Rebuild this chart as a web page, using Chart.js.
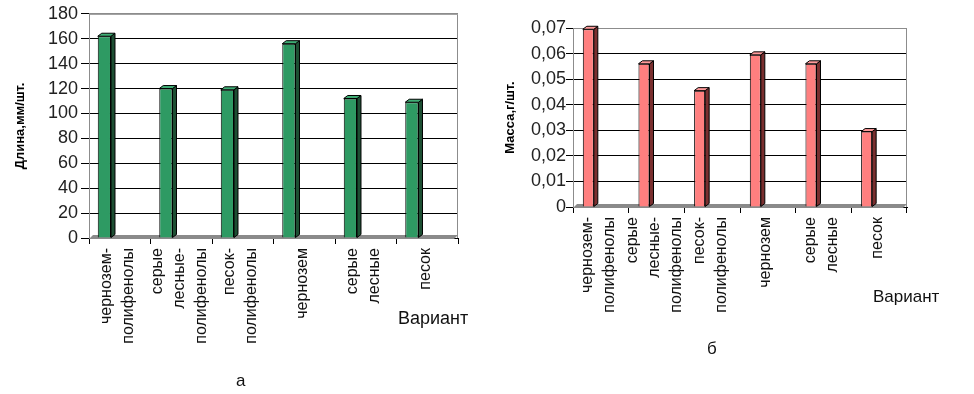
<!DOCTYPE html>
<html lang="ru">
<head>
<meta charset="UTF-8">
<title>Длина и масса по вариантам</title>
<script src="https://cdn.jsdelivr.net/npm/chart.js@4.4.0/dist/chart.umd.min.js"></script>
<style>
  *{margin:0;padding:0;box-sizing:border-box;}
  body{width:974px;height:394px;background:#fff;position:relative;overflow:hidden;
       font-family:"Liberation Sans",Arial,sans-serif;color:#111;}
  .box{position:absolute;top:0;height:394px;}
  #boxA{left:0;width:490px;}
  #boxB{left:490px;width:484px;}
  .lbl{position:absolute;line-height:1;white-space:nowrap;color:#111;}
</style>
</head>
<body>
  <div class="box" id="boxA"><canvas id="chartA"></canvas></div>
  <div class="box" id="boxB"><canvas id="chartB"></canvas></div>
  <span class="lbl" style="left:398px;top:309px;font-size:18px">Вариант</span>
  <span class="lbl" style="left:873px;top:288px;font-size:17px">Вариант</span>
  <span class="lbl" style="left:236px;top:372px;font-size:17px">а</span>
  <span class="lbl" style="left:707px;top:340px;font-size:17px">б</span>

<script>
// --- data ---
const variants = [
  ["чернозем-", "полифенолы"],
  ["серые", "лесные-", "полифенолы"],
  ["песок-", "полифенолы"],
  "чернозем",
  ["серые", "лесные"],
  "песок"
];
const lengthMm = [162, 120, 119, 156, 112, 109];        // а: Длина, мм/шт.
const massG    = [0.0695, 0.056, 0.0455, 0.0595, 0.056, 0.0295]; // б: Масса, г/шт.
const emptySeries = [null, null, null, null, null, null]; // second (empty) series slot
const lengthAxis = {min: 0, max: 180, step: 20};
const massAxis   = {min: 0, max: 0.07, step: 0.01};

// rotated multi-line labels start at the tick; pad with blank half-lines so
// each label ends up centred on its category
function spread(lbl) {
  const lines = Array.isArray(lbl) ? lbl : [lbl];
  const out = [];
  for (let i = 0; i < 3 - lines.length; i++) out.push("");
  lines.forEach((t, i) => { if (i) out.push(""); out.push(t); });
  return out;
}

// excel-like 3d column faces + floor
const depth3d = {
  id: "depth3d",
  beforeDatasetsDraw(chart, args, o) {
    const {ctx, chartArea: a} = chart;
    ctx.save();
    ctx.strokeStyle = "#8c8c8c"; ctx.lineWidth = 1;
    ctx.beginPath();
    ctx.moveTo(a.left + 0.5, a.top + 0.5); ctx.lineTo(a.right - 0.5, a.top + 0.5);
    ctx.lineTo(a.right - 0.5, a.bottom);
    ctx.stroke();
    ctx.fillStyle = "#8a8a8a";
    ctx.beginPath();
    ctx.moveTo(a.left, a.bottom + 1);
    ctx.lineTo(a.right - o.dx, a.bottom + 1);
    ctx.lineTo(a.right, a.bottom - o.dy);
    ctx.lineTo(a.left + o.dx, a.bottom - o.dy);
    ctx.closePath(); ctx.fill();
    ctx.restore();
  },
  afterDatasetsDraw(chart, args, o) {
    const {ctx} = chart;
    const meta = chart.getDatasetMeta(0);
    ctx.save();
    ctx.strokeStyle = "#000"; ctx.lineWidth = 1;
    meta.data.forEach(bar => {
      const {x, y, base, width} = bar.getProps(["x", "y", "base", "width"], true);
      const l = x - width / 2, r = x + width / 2;
      ctx.fillStyle = o.side;
      ctx.beginPath();
      ctx.moveTo(r, y); ctx.lineTo(r + o.dx, y - o.dy);
      ctx.lineTo(r + o.dx, base - o.dy); ctx.lineTo(r, base);
      ctx.closePath(); ctx.fill(); ctx.stroke();
      ctx.fillStyle = o.top;
      ctx.beginPath();
      ctx.moveTo(l, y); ctx.lineTo(l + o.dx, y - o.dy);
      ctx.lineTo(r + o.dx, y - o.dy); ctx.lineTo(r, y);
      ctx.closePath(); ctx.fill(); ctx.stroke();
    });
    ctx.restore();
  }
};

function makeChart(id, values, axis, cfg) {
  return new Chart(document.getElementById(id), {
    type: "bar",
    data: {
      labels: variants,
      datasets: [
        {data: values, backgroundColor: cfg.front, borderColor: "#000", borderWidth: 1,
         categoryPercentage: cfg.catPct, barPercentage: cfg.barPct},
        {data: emptySeries, categoryPercentage: cfg.catPct, barPercentage: cfg.barPct}
      ]
    },
    options: {
      responsive: true,
      maintainAspectRatio: false,
      animation: false,
      layout: {padding: cfg.pad},
      plugins: {
        legend: {display: false},
        tooltip: {enabled: false},
        depth3d: {dx: 4, dy: 3, side: cfg.side, top: cfg.top}
      },
      scales: {
        x: {
          afterFit: s => { s.height = cfg.xHeight; },
          grid: {drawOnChartArea: false, color: "#000", tickLength: 6, offset: true},
          border: {color: "#000"},
          ticks: {
            maxRotation: 90, minRotation: 90, autoSkip: false, padding: 4, color: "#111",
            labelOffset: -24,
            font: {family: "Liberation Sans, Arial", size: 16, lineHeight: 0.6875},
            callback: (v, i) => spread(variants[i])
          }
        },
        y: {
          min: axis.min, max: axis.max,
          afterFit: s => { s.width = cfg.yWidth; },
          grid: {
            color: c => c.tick && c.tick.value >= axis.max - 1e-9 ? "#8c8c8c" : "#000",
            tickColor: "#000", tickLength: cfg.yTick
          },
          border: {color: "#8c8c8c"},
          title: {
            display: true, text: cfg.yTitle, color: "#000", padding: {top: 13, bottom: 0},
            font: {family: "Liberation Sans, Arial", size: 13, weight: "bold"}
          },
          ticks: {
            stepSize: axis.step, padding: cfg.yPad, color: "#222",
            font: {family: "Liberation Sans, Arial", size: 18},
            callback: cfg.fmt
          }
        }
      }
    },
    plugins: [depth3d]
  });
}

makeChart("chartA", lengthMm, lengthAxis, {
  front: "#2e9a63", side: "#1d4f33", top: "#3fae75",
  catPct: 1.0, barPct: 0.43,
  pad: {top: 13, right: 32, left: 0, bottom: 0},
  xHeight: 156, yWidth: 89, yTick: 8, yPad: 3,
  yTitle: "Длина,мм/шт.",
  fmt: v => String(v)
});

makeChart("chartB", massG, massAxis, {
  front: "#ff7f7f", side: "#7a2f2f", top: "#ff9a9a",
  catPct: 0.9, barPct: 0.44,
  pad: {top: 28, right: 67, left: 0, bottom: 0},
  xHeight: 187, yWidth: 83, yTick: 7, yPad: 0,
  yTitle: "Масса,г/шт.",
  fmt: v => v === 0 ? "0" : v.toFixed(2).replace(".", ",")
});
</script>
</body>
</html>
